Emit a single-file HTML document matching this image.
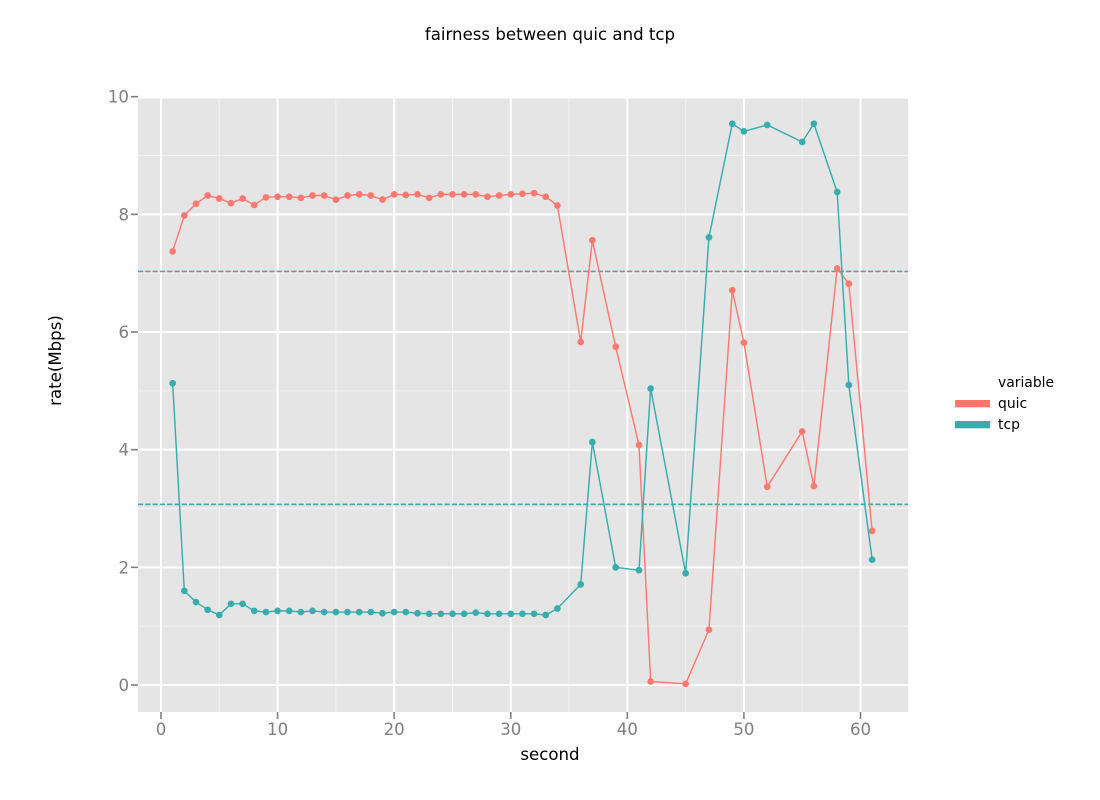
<!DOCTYPE html>
<html>
<head>
<meta charset="utf-8">
<title>fairness between quic and tcp</title>
<style>
html,body{margin:0;padding:0;background:#fff;}
svg{display:block;font-family:"DejaVu Sans","Liberation Sans",sans-serif;}
</style>
</head>
<body>
<svg id="chart" xmlns="http://www.w3.org/2000/svg" width="1100" height="800" viewBox="0 0 1100 800">
  <rect x="0" y="0" width="1100" height="800" fill="#ffffff"/>
  <text x="550" y="40" font-size="16.6" text-anchor="middle" fill="#000">fairness between quic and tcp</text>
  <rect x="138" y="97" width="770" height="615" fill="#e5e5e5"/>
  <g id="grid"></g>
  <g id="ticks"></g>
  <g id="hlines"></g>
  <g id="series"></g>
  <text x="550" y="760" font-size="16.6" text-anchor="middle" fill="#000">second</text>
  <text x="0" y="0" transform="translate(61,360.5) rotate(-90)" font-size="16.6" text-anchor="middle" fill="#000">rate(Mbps)</text>
  <g>
    <text x="998" y="387" font-size="13.9" fill="#000">variable</text>
    <rect x="955" y="400" width="35" height="7.3" fill="#fc766d"/>
    <text x="998" y="408" font-size="13.9" fill="#000">quic</text>
    <rect x="955" y="421" width="35" height="7.3" fill="#38acac"/>
    <text x="998" y="429" font-size="13.9" fill="#000">tcp</text>
  </g>
</svg>
<script>
const seconds = [1,2,3,4,5,6,7,8,9,10,11,12,13,14,15,16,17,18,19,20,21,22,23,24,25,26,27,28,29,30,31,32,33,34,36,37,39,41,42,45,47,49,50,52,55,56,58,59,61];
const quicRates = [7.37,7.98,8.18,8.32,8.27,8.19,8.27,8.16,8.29,8.3,8.3,8.28,8.32,8.32,8.25,8.32,8.34,8.32,8.25,8.34,8.33,8.34,8.28,8.34,8.34,8.34,8.34,8.3,8.32,8.34,8.35,8.36,8.3,8.15,5.83,7.56,5.75,4.08,0.06,0.02,0.94,6.71,5.82,3.37,4.31,3.38,7.08,6.82,2.62];
const tcpRates = [5.13,1.6,1.41,1.28,1.19,1.38,1.38,1.26,1.24,1.26,1.26,1.24,1.26,1.24,1.24,1.24,1.24,1.24,1.22,1.24,1.24,1.22,1.21,1.21,1.21,1.21,1.23,1.21,1.21,1.21,1.21,1.21,1.19,1.3,1.71,4.13,2.0,1.95,5.04,1.9,7.61,9.54,9.41,9.52,9.23,9.54,8.38,5.1,2.13];
const meanRates = [7.03,3.07];
const xMajorTicks = [0,10,20,30,40,50,60];
const xMinorTicks = [5,15,25,35,45,55];
const yMajorTicks = [0,2,4,6,8,10];
const yMinorTicks = [1,3,5,7,9];

const NS = 'http://www.w3.org/2000/svg';
const QUIC_COLOR = '#fa7a71';
const TCP_COLOR = '#38adad';
const PANEL = {left:138, right:908, top:97, bottom:712};
function xScale(v){ return 161 + v * (860.5 - 161) / 60; }
function yScale(v){ return 685 - v * 58.83; }
function make(tag, attrs, parent){
  const el = document.createElementNS(NS, tag);
  for (const k in attrs) el.setAttribute(k, attrs[k]);
  parent.appendChild(el);
  return el;
}
const gridG = document.getElementById('grid');
const ticksG = document.getElementById('ticks');
const hlinesG = document.getElementById('hlines');
const seriesG = document.getElementById('series');

xMinorTicks.forEach(function(t){
  const l = make('line', {x1:xScale(t), x2:xScale(t), y1:PANEL.top, y2:PANEL.bottom, stroke:'#f2f2f2', 'stroke-width':1}, gridG);
  
  
});
yMinorTicks.forEach(function(t){
  const l = make('line', {x1:PANEL.left, x2:PANEL.right, y1:yScale(t), y2:yScale(t), stroke:'#f2f2f2', 'stroke-width':1}, gridG);
  
  
});
xMajorTicks.forEach(function(t){
  const l = make('line', {x1:xScale(t), x2:xScale(t), y1:PANEL.top, y2:PANEL.bottom, stroke:'#ffffff', 'stroke-width':2}, gridG);
  
  
  const m = make('line', {x1:xScale(t), x2:xScale(t), y1:PANEL.bottom, y2:PANEL.bottom + 7, stroke:'#7f7f7f', 'stroke-width':1.6}, ticksG);
  
  
  const txt = make('text', {x:xScale(t), y:735, 'font-size':16.6, 'text-anchor':'middle', fill:'#7f7f7f'}, ticksG);
  
  
  txt.textContent = String(t);
});
yMajorTicks.forEach(function(t){
  const l = make('line', {x1:PANEL.left, x2:PANEL.right, y1:Math.max(yScale(t), PANEL.top + 0.5), y2:Math.max(yScale(t), PANEL.top + 0.5), stroke:'#ffffff', 'stroke-width':2}, gridG);
  
  
  const m = make('line', {x1:PANEL.left - 7, x2:PANEL.left, y1:yScale(t), y2:yScale(t), stroke:'#7f7f7f', 'stroke-width':1.6}, ticksG);
  
  
  const txt = make('text', {x:129, y:yScale(t) + 6, 'font-size':16.6, 'text-anchor':'end', fill:'#7f7f7f'}, ticksG);
  
  
  txt.textContent = String(t);
});

meanRates.forEach(function(v){
  [QUIC_COLOR, TCP_COLOR].forEach(function(c, i){
    const l = make('line', {x1:PANEL.left, x2:PANEL.right, y1:yScale(v), y2:yScale(v), stroke:c, 'stroke-width':1.45, 'stroke-dasharray':'5.1 2.2'}, hlinesG);
    
    
  });
});

function drawSeries(values, color, name){
  const g = make('g', {}, seriesG);
  
  
  const pts = values.map(function(v, i){ return xScale(seconds[i]).toFixed(2) + ',' + yScale(v).toFixed(2); }).join(' ');
  const line = make('polyline', {points:pts, fill:'none', stroke:color, 'stroke-width':1.45, 'stroke-linejoin':'round'}, g);
  
  
  values.forEach(function(v, i){
    const c = make('circle', {cx:xScale(seconds[i]), cy:yScale(v), r:3.35, fill:color}, g);
    
    
  });
}
drawSeries(quicRates, QUIC_COLOR, 'quic');
drawSeries(tcpRates, TCP_COLOR, 'tcp');
</script>
</body>
</html>
